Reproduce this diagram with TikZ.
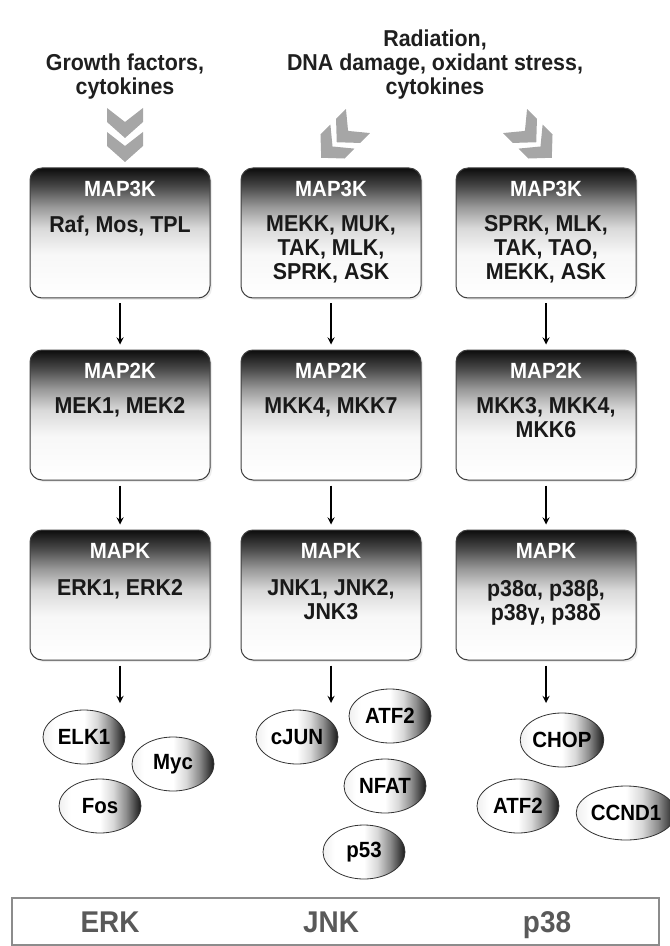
\documentclass[tikz,border=0pt]{standalone}
\usepackage{fontspec}
\setmainfont{Liberation Sans}[FakeStretch=0.93]
\usepackage{xcolor}
\usetikzlibrary{shadows, shapes.geometric, positioning, calc}

\pgfdeclareverticalshading{caixagrad}{100bp}{color(0bp)=(white); color(25bp)=(white); color(42bp)=(black!3); color(52bp)=(black!15); color(60bp)=(black!40); color(68bp)=(black!72); color(75bp)=(black!95); color(100bp)=(black!95)}
\pgfdeclarehorizontalshading{ovalgrad}{100bp}{color(0bp)=(black!6); color(25bp)=(black!6); color(32bp)=(white); color(50bp)=(white); color(58bp)=(black!15); color(66bp)=(black!45); color(75bp)=(black!90); color(100bp)=(black!90)}

\begin{document}
\begin{tikzpicture}[x=0.5pt, y=-0.5pt,
  caixa/.style={draw=black!75, line width=0.5pt, rounded corners=6pt, shade, shading=caixagrad, minimum width=90pt, minimum height=65pt, drop shadow={opacity=0.15, shadow xshift=1pt, shadow yshift=-1pt}},
  titulo/.style={text=white, font=\bfseries\fontsize{11}{13}\selectfont},
  lista/.style={anchor=north, align=center, inner sep=0pt, text=black!90, font=\bfseries\fontsize{11.5}{12}\selectfont},
  oval/.style={ellipse, draw=black!80, line width=0.4pt, shade, shading=ovalgrad, minimum width=41pt, minimum height=27pt, inner sep=0pt, font=\bfseries\fontsize{11}{13}\selectfont},
  estimulo/.style={align=center, text=black!88, font=\bfseries\fontsize{11.5}{12}\selectfont},
  seta/.style={->, >=stealth, line width=0.6pt, shorten <=2.5pt, shorten >=2.5pt},
  familia/.style={anchor=base, text=black!65, font=\bfseries\fontsize{15}{18}\selectfont}]
\definecolor{chevron}{HTML}{A6A6A6}
\definecolor{moldura}{HTML}{8C8C8C}
\useasboundingbox (0,0) rectangle (669,946);

% LAYER 1: Estimulos
\node[estimulo] (fatores) at (125,77) {Growth factors,\\cytokines};
\node[estimulo] (estresse) at (435,65) {Radiation,\\DNA damage, oxidant stress,\\cytokines};

% LAYER 2: Setas de entrada (chevrons)
\foreach \dy in {0,24} {
  \fill[chevron] (107,108+\dy) -- (125,122+\dy) -- (143,108+\dy) -- (143,122+\dy) -- (125,138+\dy) -- (107,122+\dy) -- cycle;
}
\begin{scope}[shift={(341,138)}, rotate=-45]
  \foreach \dy in {-24,-2} {
    \fill[chevron] (-17,\dy) -- (0,14+\dy) -- (17,\dy) -- (17,14+\dy) -- (0,30+\dy) -- (-17,14+\dy) -- cycle;
  }
\end{scope}
\begin{scope}[shift={(532,138)}, rotate=45]
  \foreach \dy in {-24,-2} {
    \fill[chevron] (-17,\dy) -- (0,14+\dy) -- (17,\dy) -- (17,14+\dy) -- (0,30+\dy) -- (-17,14+\dy) -- cycle;
  }
\end{scope}

% LAYER 3: Caixas MAP3K / MAP2K / MAPK
\foreach \nome/\x in {erk/120, jnk/331, pmap/546} {
  \node[caixa] (m3\nome) at (\x,233) {};
  \node[caixa] (m2\nome) at (\x,415) {};
  \node[caixa] (mk\nome) at (\x,595) {};
  \node[titulo] (t3\nome) at ([yshift=-10.5pt]m3\nome.north) {MAP3K};
  \node[titulo] (t2\nome) at ([yshift=-10.5pt]m2\nome.north) {MAP2K};
  \node[titulo] (tk\nome) at ([yshift=-10.5pt]mk\nome.north) {MAPK};
  \draw[seta] (m3\nome) -- (m2\nome);
  \draw[seta] (m2\nome) -- (mk\nome);
  \coordinate (fim\nome) at (\x,708);
  \draw[seta] (mk\nome) -- (fim\nome);
}

% textos das caixas
\node[lista] (l3erk) at ([yshift=-24pt]m3erk.north) {Raf, Mos, TPL};
\node[lista] (l3jnk) at ([yshift=-24pt]m3jnk.north) {MEKK, MUK,\\TAK, MLK,\\SPRK, ASK};
\node[lista] (l3pmap) at ([yshift=-24pt]m3pmap.north) {SPRK, MLK,\\TAK, TAO,\\MEKK, ASK};
\node[lista] (l2erk) at ([yshift=-24pt]m2erk.north) {MEK1, MEK2};
\node[lista] (l2jnk) at ([yshift=-24pt]m2jnk.north) {MKK4, MKK7};
\node[lista] (l2pmap) at ([yshift=-24pt]m2pmap.north) {MKK3, MKK4,\\MKK6};
\node[lista] (lkerk) at ([yshift=-25pt]mkerk.north) {ERK1, ERK2};
\node[lista] (lkjnk) at ([yshift=-25pt]mkjnk.north) {JNK1, JNK2,\\JNK3};
\node[lista] (lkpmap) at ([yshift=-25pt]mkpmap.north) {p38α, p38β,\\p38γ, p38δ};

% LAYER 4: Substratos
\node[oval] (elk) at (84,737) {ELK1};
\node[oval] (myc) at (173,764) {Myc};
\node[oval] (fos) at (100,806) {Fos};
\node[oval] (cjun) at (297,737) {cJUN};
\node[oval] (atfj) at (390,716) {ATF2};
\node[oval] (nfat) at (385,786) {NFAT};
\node[oval] (pcq) at (364,852) {p53};
\node[oval] (chop) at (562,740) {CHOP};
\node[oval] (atfp) at (518,806) {ATF2};
\node[oval, minimum width=42pt] (ccnd) at (626,813) {CCND1};

% LAYER 5: Familias
\draw[moldura, line width=1pt] (12,898) rectangle (659,945);
\node[familia] (ferk) at (110,932) {ERK};
\node[familia] (fjnk) at (331,932) {JNK};
\node[familia] (fp) at (547,932) {p38};
\end{tikzpicture}
\end{document}
